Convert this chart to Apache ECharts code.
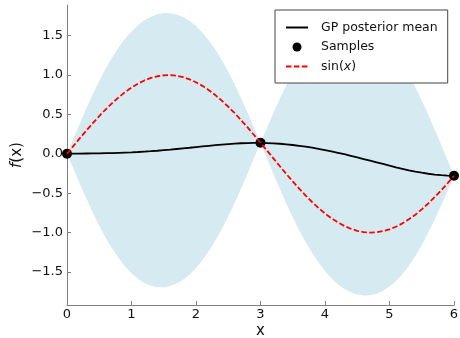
<!DOCTYPE html>
<html>
<head>
<meta charset="utf-8">
<script src="https://cdn.jsdelivr.net/npm/echarts@6/dist/echarts.min.js"></script>
<style>
  html, body { margin: 0; padding: 0; background: #fff; }
  #chart { width: 460px; height: 338px; }
</style>
</head>
<body>
<div id="chart"></div>
<script>
// Evaluation grid along x
const xGrid = [
  0.0, 0.1, 0.2, 0.3, 0.4, 0.5, 0.6, 0.7, 0.8, 0.9,
  1.0, 1.1, 1.2, 1.3, 1.4, 1.5, 1.6, 1.7, 1.8, 1.9,
  2.0, 2.1, 2.2, 2.3, 2.4, 2.5, 2.6, 2.7, 2.8, 2.9,
  3.0, 3.1, 3.2, 3.3, 3.4, 3.5, 3.6, 3.7, 3.8, 3.9,
  4.0, 4.1, 4.2, 4.3, 4.4, 4.5, 4.6, 4.7, 4.8, 4.9,
  5.0, 5.1, 5.2, 5.3, 5.4, 5.5, 5.6, 5.7, 5.8, 5.9,
  6.0
];

// GP posterior mean at each grid point
const posteriorMean = [
  0.000, 0.002, 0.003, 0.004, 0.005, 0.006, 0.008, 0.010, 0.013, 0.016,
  0.019, 0.023, 0.028, 0.033, 0.039, 0.046, 0.053, 0.061, 0.069, 0.077,
  0.086, 0.094, 0.102, 0.110, 0.118, 0.124, 0.129, 0.134, 0.137, 0.139,
  0.141, 0.137, 0.133, 0.128, 0.121, 0.112, 0.102, 0.091, 0.078, 0.063,
  0.048, 0.031, 0.013, -0.005, -0.025, -0.045, -0.066, -0.087, -0.108, -0.129,
  -0.150, -0.171, -0.190, -0.209, -0.226, -0.240, -0.253, -0.263, -0.271, -0.276,
  -0.279
];

// Half width of the confidence band around the mean
const bandHalfWidth = [
  0.000, 0.193, 0.386, 0.573, 0.751, 0.918, 1.072, 1.212, 1.336, 1.444,
  1.536, 1.610, 1.668, 1.709, 1.733, 1.741, 1.733, 1.709, 1.668, 1.610,
  1.536, 1.444, 1.336, 1.212, 1.072, 0.918, 0.751, 0.573, 0.386, 0.193,
  0.000, 0.193, 0.386, 0.573, 0.751, 0.918, 1.072, 1.212, 1.336, 1.444,
  1.536, 1.610, 1.668, 1.709, 1.733, 1.741, 1.733, 1.709, 1.668, 1.610,
  1.536, 1.444, 1.336, 1.212, 1.072, 0.918, 0.751, 0.573, 0.386, 0.193,
  0.000
];

// True function sin(x) on the same grid
const sinValues = [
  0.000, 0.100, 0.199, 0.296, 0.389, 0.479, 0.565, 0.644, 0.717, 0.783,
  0.841, 0.891, 0.932, 0.964, 0.985, 0.997, 1.000, 0.992, 0.974, 0.946,
  0.909, 0.863, 0.808, 0.746, 0.675, 0.598, 0.516, 0.427, 0.335, 0.239,
  0.141, 0.042, -0.058, -0.158, -0.256, -0.351, -0.443, -0.530, -0.612, -0.688,
  -0.757, -0.818, -0.872, -0.916, -0.952, -0.978, -0.994, -1.000, -0.996, -0.982,
  -0.959, -0.926, -0.883, -0.832, -0.773, -0.706, -0.631, -0.551, -0.465, -0.374,
  -0.279
];

// Observed samples
const sampleX = [0, 3, 6];
const sampleY = [0.000, 0.141, -0.279];

// Axis ticks
const xTicks = [0, 1, 2, 3, 4, 5, 6];
const yTicks = [-1.5, -1.0, -0.5, 0.0, 0.5, 1.0, 1.5];

const FONT = 'DejaVu Sans';
const AXIS_GRAY = '#808080';
const TEXT_COLOR = '#111111';

const pairs = (ys) => xGrid.map((x, i) => [x, ys[i]]);
const bandUpper = xGrid.map((x, i) => [x, posteriorMean[i] + bandHalfWidth[i]]);
const bandLower = xGrid.map((x, i) => [x, posteriorMean[i] - bandHalfWidth[i]]);

// Confidence band drawn as one closed polygon: upper edge left to right, lower edge back
function renderBand(params, api) {
  const pts = bandUpper.map((p) => api.coord(p))
    .concat(bandLower.slice().reverse().map((p) => api.coord(p)));
  return {
    type: 'polygon',
    shape: { points: pts },
    style: { fill: '#d5eaf1', stroke: null },
    silent: true
  };
}

const chart = echarts.init(document.getElementById('chart'), null, { renderer: 'canvas' });

chart.setOption({
  animation: false,
  backgroundColor: '#ffffff',
  textStyle: { fontFamily: FONT },
  grid: { left: 67, right: 6, top: 5, bottom: 33, containLabel: false, outerBoundsMode: 'none' },
  xAxis: {
    type: 'value',
    min: xTicks[0],
    max: xTicks[xTicks.length - 1],
    interval: 1,
    name: 'x',
    nameLocation: 'middle',
    nameGap: 19,
    nameMoveOverlap: false,
    nameTextStyle: { fontSize: 15, color: TEXT_COLOR, fontFamily: FONT },
    axisLine: { onZero: false, lineStyle: { color: AXIS_GRAY, width: 1 } },
    axisTick: { inside: true, length: 4, lineStyle: { color: AXIS_GRAY } },
    axisLabel: { margin: 3, fontSize: 13, color: TEXT_COLOR, fontFamily: FONT },
    splitLine: { show: false }
  },
  yAxis: {
    type: 'value',
    min: -1.92,
    max: 1.89,
    name: '{i|f}(x)',
    nameLocation: 'middle',
    nameRotate: 90,
    nameGap: 42,
    nameMoveOverlap: false,
    nameTextStyle: {
      fontSize: 15, color: TEXT_COLOR, fontFamily: FONT,
      rich: { i: { fontStyle: 'italic', fontSize: 15, color: TEXT_COLOR, fontFamily: FONT } }
    },
    axisLine: { show: true, lineStyle: { color: AXIS_GRAY, width: 1 } },
    axisTick: { inside: true, length: 4, lineStyle: { color: AXIS_GRAY }, customValues: yTicks },
    axisLabel: {
      margin: 4, fontSize: 13, color: TEXT_COLOR, fontFamily: FONT,
      customValues: yTicks,
      formatter: (v) => Number(v).toFixed(1).replace('-', '\u2212')
    },
    splitLine: { show: false }
  },
  legend: {
    show: true,
    orient: 'vertical',
    left: 275,
    top: 10,
    z: 10,
    data: [
      { name: 'GP posterior mean', itemStyle: { opacity: 0 } },
      { name: 'Samples' },
      { name: 'sin(x)', itemStyle: { opacity: 0 } }
    ],
    itemWidth: 22,
    itemHeight: 9,
    itemGap: 6.5,
    padding: [11, 10, 10, 10],
    backgroundColor: '#ffffff',
    borderColor: '#444',
    borderWidth: 1,
    borderRadius: 0,
    selectedMode: false,
    formatter: (name) => name === 'sin(x)' ? 'sin({i|x})' : name,
    textStyle: {
      fontSize: 12.5, color: TEXT_COLOR, fontFamily: FONT, padding: [0, 0, 0, 8],
      rich: { i: { fontStyle: 'italic', fontSize: 12.5, color: TEXT_COLOR, fontFamily: FONT } }
    }
  },
  series: [
    {
      name: 'band',
      type: 'custom',
      renderItem: renderBand,
      data: [[0, 0]],
      silent: true,
      z: 1
    },
    {
      name: 'GP posterior mean',
      type: 'line',
      data: pairs(posteriorMean),
      symbol: 'none',
      lineStyle: { color: '#000', width: 1.8 },
      itemStyle: { color: '#000' },
      z: 3
    },
    {
      name: 'Samples',
      type: 'scatter',
      data: sampleX.map((x, i) => [x, sampleY[i]]),
      symbol: 'circle',
      symbolSize: 10,
      itemStyle: { color: '#000', opacity: 1 },
      z: 4
    },
    {
      name: 'sin(x)',
      type: 'line',
      data: pairs(sinValues),
      symbol: 'none',
      lineStyle: { color: '#ff0000', width: 1.8, type: [5.5, 2.4] },
      itemStyle: { color: '#ff0000' },
      z: 5
    }
  ]
});
</script>
</body>
</html>
